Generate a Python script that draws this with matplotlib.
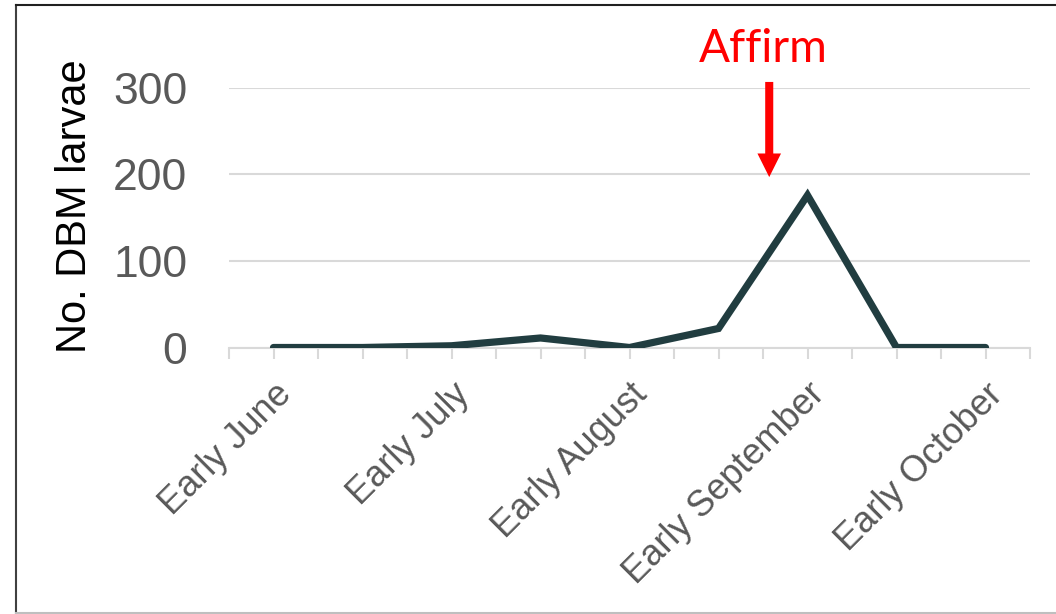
import matplotlib
matplotlib.use("Agg")
import matplotlib.pyplot as plt

# data
periods = ["Early June", "Mid June", "Early July", "Mid July", "Early August",
           "Mid August", "Early September", "Mid September", "Early October"]
larvae = [0, 0, 2, 11, 0, 22, 176, 0, 0]
y_ticks = [0, 100, 200, 300]

plt.rcParams["font.family"] = ["Liberation Sans", "DejaVu Sans"]

W, H = 1056, 614
fig = plt.figure(figsize=(W / 100, H / 100), dpi=100)
ax = fig.add_axes([229 / W, 1 - 347.5 / H, (1030 - 229) / W, (347.5 - 88) / H])

x = list(range(len(periods)))
ax.plot(x, larvae, color="#213D40", linewidth=5.2, solid_capstyle="round",
        solid_joinstyle="miter", zorder=3)

ax.set_xlim(-0.5, len(periods) - 0.5)
ax.set_ylim(0, 300)

# y axis: gridlines only, no spine
ax.set_yticks(y_ticks)
ax.set_yticklabels([str(v) for v in y_ticks], fontsize=32, color="#595959")
ax.tick_params(axis="y", length=0, pad=30)
ax.grid(axis="y", color="#D9D9D9", linewidth=1.5)
ax.set_axisbelow(True)

# x axis: labels every other category, ticks at every boundary and centre
ax.set_xticks(x[::2])
ax.set_xticklabels(periods[::2], fontsize=26, color="#595959",
                   rotation=45, ha="right", rotation_mode="anchor")
ax.set_xticks([i - 0.5 for i in range(len(periods) + 1)] + x[1::2], minor=True)
ax.tick_params(axis="x", which="both", length=8, width=1.5, color="#D9D9D9",
               direction="out", pad=13)

for side in ["top", "right", "left"]:
    ax.spines[side].set_visible(False)
ax.spines["bottom"].set_color("#D9D9D9")
ax.spines["bottom"].set_linewidth(1.5)

fig.text(75 / W, 1 - 206 / H, "No. DBM larvae", rotation=90, fontsize=30,
         color="black", ha="center", va="center")

# annotation for the Affirm application
ax.annotate("", xy=(5.57, 197), xytext=(5.57, 307),
            arrowprops=dict(arrowstyle="simple,head_length=0.85,head_width=0.85,tail_width=0.29",
                            mutation_scale=20, color="#FF0000", lw=0,
                            shrinkA=0, shrinkB=0),
            annotation_clip=False)
ax.text(5.5, 330, "Affirm", color="#FF0000", fontsize=33, ha="center",
        va="baseline", family=["Lato", "DejaVu Sans"])

# outer frame like the source slide
fig.add_artist(plt.Line2D([16 / W, 16 / W], [0, 1 - 5 / H], color="#404040", lw=1.5))
fig.add_artist(plt.Line2D([16 / W, 1], [1 - 5 / H, 1 - 5 / H], color="#202020", lw=1.5))
fig.add_artist(plt.Line2D([16 / W, 1], [1.5 / H, 1.5 / H], color="#BFBFBF", lw=1.5))

fig.savefig("out.png", dpi=100, facecolor="white")
